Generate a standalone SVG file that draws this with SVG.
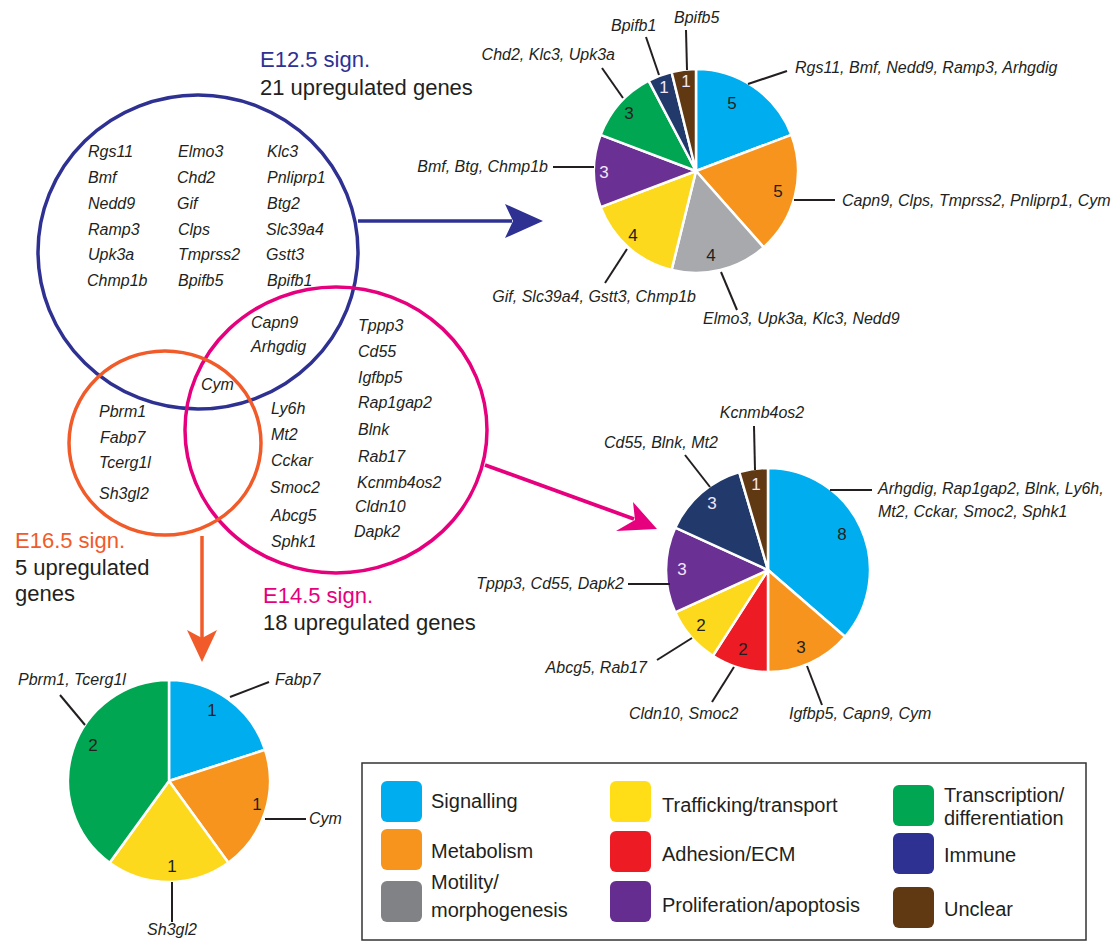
<svg xmlns="http://www.w3.org/2000/svg" width="1115" height="942" viewBox="0 0 1115 942">
<style>
text{font-family:"Liberation Sans",Arial,sans-serif;fill:#231f20}
.g{font-style:italic;font-size:16px}
.lbl{font-size:22px}
.num{font-size:17px;text-anchor:middle}
.lt{fill:#f2e6f8}
.leg{font-size:20px}
.lead{stroke:#231f20;stroke-width:2;fill:none}
.sl{stroke:#fff;stroke-width:2.5;stroke-linejoin:round}
.sw{stroke:none}
.end{text-anchor:end}
.mid{text-anchor:middle}
</style>
<rect width="1115" height="942" fill="#fff"/>

<g id="connectors">
  <line x1="358" y1="221" x2="512" y2="221" stroke="#2e3192" stroke-width="3.5"/>
  <polygon points="543,221 505,204 513,221 505,238" fill="#2e3192"/>
  <line x1="485" y1="465" x2="634" y2="519" stroke="#e6007e" stroke-width="3.8"/>
  <polygon points="657,529 633,502 635,520 616,531" fill="#e6007e"/>
  <line x1="202" y1="536" x2="202" y2="640" stroke="#f15a29" stroke-width="3.5"/>
  <polygon points="202,662 187,630 202,638 217,630" fill="#f15a29"/>
</g>

<g id="venn-e12">
  <ellipse cx="198" cy="252" rx="160" ry="157" fill="none" stroke="#2e3192" stroke-width="3.5"/>
  <text x="260" y="67" class="lbl" style="fill:#2e3192">E12.5 sign.</text>
  <text x="260" y="95" class="lbl">21 upregulated genes</text>
  <g class="g">
    <text x="88" y="157" class="g">Rgs11</text>
    <text x="88" y="183" class="g">Bmf</text>
    <text x="88" y="209" class="g">Nedd9</text>
    <text x="88" y="235" class="g">Ramp3</text>
    <text x="88" y="260" class="g">Upk3a</text>
    <text x="87" y="286" class="g">Chmp1b</text>
    <text x="178" y="157" class="g">Elmo3</text>
    <text x="177" y="183" class="g">Chd2</text>
    <text x="177" y="209" class="g">Gif</text>
    <text x="178" y="235" class="g">Clps</text>
    <text x="178" y="260" class="g">Tmprss2</text>
    <text x="178" y="286" class="g">Bpifb5</text>
    <text x="267" y="157" class="g">Klc3</text>
    <text x="267" y="183" class="g">Pnliprp1</text>
    <text x="267" y="209" class="g">Btg2</text>
    <text x="266" y="235" class="g">Slc39a4</text>
    <text x="266" y="260" class="g">Gstt3</text>
    <text x="267" y="286" class="g">Bpifb1</text>
    <text x="251" y="328" class="g">Capn9</text>
    <text x="251" y="352" class="g">Arhgdig</text>
    <text x="201" y="390" class="g">Cym</text>
  </g>
</g>

<g id="venn-e14">
  <ellipse cx="336" cy="430" rx="151" ry="143" fill="none" stroke="#e6007e" stroke-width="3.5"/>
  <text x="263" y="603" class="lbl" style="fill:#e6007e">E14.5 sign.</text>
  <text x="263" y="630" class="lbl">18 upregulated genes</text>
  <text x="271" y="414" class="g">Ly6h</text>
  <text x="271" y="440" class="g">Mt2</text>
  <text x="271" y="466" class="g">Cckar</text>
  <text x="270" y="493" class="g">Smoc2</text>
  <text x="271" y="521" class="g">Abcg5</text>
  <text x="271" y="547" class="g">Sphk1</text>
  <text x="358" y="331" class="g">Tppp3</text>
  <text x="358" y="357" class="g">Cd55</text>
  <text x="358" y="383" class="g">Igfbp5</text>
  <text x="358" y="408" class="g">Rap1gap2</text>
  <text x="358" y="435" class="g">Blnk</text>
  <text x="358" y="462" class="g">Rab17</text>
  <text x="357" y="488" class="g">Kcnmb4os2</text>
  <text x="355" y="512" class="g">Cldn10</text>
  <text x="354" y="537" class="g">Dapk2</text>
</g>

<g id="venn-e16">
  <ellipse cx="165" cy="443" rx="96" ry="92" fill="none" stroke="#f15a29" stroke-width="3.5"/>
  <text x="15" y="548" class="lbl" style="fill:#f15a29">E16.5 sign.</text>
  <text x="15" y="575" class="lbl">5 upregulated</text>
  <text x="15" y="601" class="lbl">genes</text>
  <text x="99" y="417" class="g">Pbrm1</text>
  <text x="100" y="443" class="g">Fabp7</text>
  <text x="99" y="468" class="g">Tcerg1l</text>
  <text x="99" y="499" class="g">Sh3gl2</text>
</g>

<g id="pie-e12">
  <path class="sl" fill="#00aeef" d="M696,171 L696,69 A102,102 0 0 1 791.37,134.83 Z"/>
  <path class="sl" fill="#f7941d" d="M696,171 L791.37,134.83 A102,102 0 0 1 763.64,247.35 Z"/>
  <path class="sl" fill="#a7a9ac" d="M696,171 L763.64,247.35 A102,102 0 0 1 671.59,270.03 Z"/>
  <path class="sl" fill="#fcd91c" d="M696,171 L671.59,270.03 A102,102 0 0 1 600.63,207.17 Z"/>
  <path class="sl" fill="#6a3093" d="M696,171 L600.63,207.17 A102,102 0 0 1 600.63,134.83 Z"/>
  <path class="sl" fill="#00a651" d="M696,171 L600.63,134.83 A102,102 0 0 1 648.60,80.68 Z"/>
  <path class="sl" fill="#213a6b" d="M696,171 L648.60,80.68 A102,102 0 0 1 671.59,71.97 Z"/>
  <path class="sl" fill="#603913" d="M696,171 L671.59,71.97 A102,102 0 0 1 696,69 Z"/>
  <text x="732" y="109" class="num">5</text>
  <text x="778" y="197" class="num">5</text>
  <text x="711" y="261" class="num">4</text>
  <text x="633" y="241" class="num">4</text>
  <text x="604" y="178" class="num lt">3</text>
  <text x="629" y="119" class="num">3</text>
  <text x="664" y="93" class="num lt">1</text>
  <text x="686" y="87" class="num lt">1</text>
  <line class="lead" x1="646" y1="37" x2="659" y2="75"/>
  <line class="lead" x1="686" y1="30" x2="687" y2="70"/>
  <line class="lead" x1="602" y1="68" x2="623" y2="98"/>
  <line class="lead" x1="787" y1="71" x2="748" y2="84"/>
  <line class="lead" x1="553" y1="167" x2="594" y2="167"/>
  <line class="lead" x1="794" y1="200" x2="835" y2="200"/>
  <line class="lead" x1="605" y1="283" x2="627" y2="249"/>
  <line class="lead" x1="737" y1="310" x2="721" y2="272"/>
  <text x="611" y="31" class="g">Bpifb1</text>
  <text x="674" y="23" class="g">Bpifb5</text>
  <text x="615" y="60" class="g end">Chd2, Klc3, Upk3a</text>
  <text x="795" y="73" class="g">Rgs11, Bmf, Nedd9, Ramp3, Arhgdig</text>
  <text x="548" y="172" class="g end">Bmf, Btg, Chmp1b</text>
  <text x="842" y="206" class="g">Capn9, Clps, Tmprss2, Pnliprp1, Cym</text>
  <text x="696" y="302" class="g end">Gif, Slc39a4, Gstt3, Chmp1b</text>
  <text x="703" y="324" class="g">Elmo3, Upk3a, Klc3, Nedd9</text>
</g>

<g id="pie-e14">
  <path class="sl" fill="#00aeef" d="M768,570 L768,468 A102,102 0 0 1 845.08,636.80 Z"/>
  <path class="sl" fill="#f7941d" d="M768,570 L845.08,636.80 A102,102 0 0 1 768,672 Z"/>
  <path class="sl" fill="#ed1c24" d="M768,570 L768,672 A102,102 0 0 1 712.86,655.81 Z"/>
  <path class="sl" fill="#fcd91c" d="M768,570 L712.86,655.81 A102,102 0 0 1 675.22,612.37 Z"/>
  <path class="sl" fill="#6a3093" d="M768,570 L675.22,612.37 A102,102 0 0 1 675.22,527.63 Z"/>
  <path class="sl" fill="#213a6b" d="M768,570 L675.22,527.63 A102,102 0 0 1 739.27,472.13 Z"/>
  <path class="sl" fill="#603913" d="M768,570 L739.27,472.13 A102,102 0 0 1 768,468 Z"/>
  <text x="842" y="540" class="num">8</text>
  <text x="801" y="653" class="num">3</text>
  <text x="743" y="655" class="num">2</text>
  <text x="701" y="631" class="num">2</text>
  <text x="682" y="575" class="num lt">3</text>
  <text x="712" y="509" class="num lt">3</text>
  <text x="756" y="490" class="num lt">1</text>
  <line class="lead" x1="754" y1="426" x2="755" y2="470"/>
  <line class="lead" x1="685" y1="455" x2="710" y2="487"/>
  <line class="lead" x1="830" y1="490" x2="872" y2="490"/>
  <line class="lead" x1="628" y1="584" x2="670" y2="584"/>
  <line class="lead" x1="657" y1="660" x2="692" y2="638"/>
  <line class="lead" x1="712" y1="702" x2="734" y2="667"/>
  <line class="lead" x1="807" y1="666" x2="822" y2="705"/>
  <text x="762" y="418" class="g mid">Kcnmb4os2</text>
  <text x="604" y="448" class="g">Cd55, Blnk, Mt2</text>
  <text x="878" y="494" class="g">Arhgdig, Rap1gap2, Blnk, Ly6h,</text>
  <text x="878" y="517" class="g">Mt2, Cckar, Smoc2, Sphk1</text>
  <text x="624" y="589" class="g end">Tppp3, Cd55, Dapk2</text>
  <text x="647" y="673" class="g end">Abcg5, Rab17</text>
  <text x="629" y="719" class="g">Cldn10, Smoc2</text>
  <text x="789" y="719" class="g">Igfbp5, Capn9, Cym</text>
</g>

<g id="pie-e16">
  <path class="sl" fill="#00aeef" d="M169,781 L169,680 A101,101 0 0 1 265.06,749.79 Z"/>
  <path class="sl" fill="#f7941d" d="M169,781 L265.06,749.79 A101,101 0 0 1 228.37,862.71 Z"/>
  <path class="sl" fill="#fcd91c" d="M169,781 L228.37,862.71 A101,101 0 0 1 109.63,862.71 Z"/>
  <path class="sl" fill="#00a651" d="M169,781 L109.63,862.71 A101,101 0 0 1 169,680 Z"/>
  <text x="212" y="716" class="num">1</text>
  <text x="257" y="810" class="num">1</text>
  <text x="172" y="872" class="num">1</text>
  <text x="93" y="751" class="num">2</text>
  <line class="lead" x1="269" y1="682" x2="230" y2="697"/>
  <line class="lead" x1="265" y1="819" x2="306" y2="819"/>
  <line class="lead" x1="172" y1="882" x2="172" y2="922"/>
  <line class="lead" x1="60" y1="695" x2="85" y2="725"/>
  <text x="275" y="685" class="g">Fabp7</text>
  <text x="309" y="824" class="g">Cym</text>
  <text x="172" y="935" class="g mid">Sh3gl2</text>
  <text x="18" y="685" class="g">Pbrm1, Tcerg1l</text>
</g>

<g id="legend">
  <rect x="362" y="763" width="724" height="177" fill="#fff" stroke="#333" stroke-width="1.5"/>
  <rect class="sw" x="381" y="781" width="41" height="41" rx="6" fill="#00aeef"/>
  <rect class="sw" x="381" y="829" width="41" height="41" rx="6" fill="#f7941d"/>
  <rect class="sw" x="381" y="881" width="41" height="41" rx="6" fill="#808285"/>
  <rect class="sw" x="610" y="781" width="41" height="41" rx="6" fill="#ffde17"/>
  <rect class="sw" x="610" y="831" width="41" height="41" rx="6" fill="#ed1c24"/>
  <rect class="sw" x="610" y="881" width="41" height="41" rx="6" fill="#662d91"/>
  <rect class="sw" x="893" y="785" width="41" height="41" rx="6" fill="#00a651"/>
  <rect class="sw" x="893" y="833" width="41" height="41" rx="6" fill="#2e3192"/>
  <rect class="sw" x="893" y="887" width="41" height="41" rx="6" fill="#603913"/>
  <text x="431" y="808" class="leg">Signalling</text>
  <text x="431" y="858" class="leg">Metabolism</text>
  <text x="431" y="889" class="leg">Motility/</text>
  <text x="431" y="917" class="leg">morphogenesis</text>
  <text x="662" y="812" class="leg">Trafficking/transport</text>
  <text x="662" y="861" class="leg">Adhesion/ECM</text>
  <text x="662" y="912" class="leg">Proliferation/apoptosis</text>
  <text x="944" y="802" class="leg">Transcription/</text>
  <text x="944" y="825" class="leg">differentiation</text>
  <text x="944" y="862" class="leg">Immune</text>
  <text x="944" y="916" class="leg">Unclear</text>
</g>
</svg>
